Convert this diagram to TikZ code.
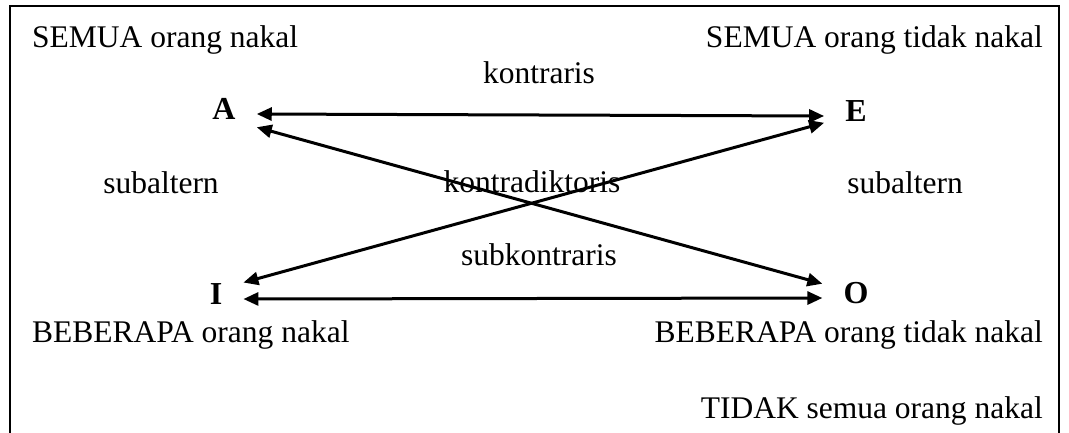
\documentclass[tikz,border=0pt]{standalone}
\usepackage{fontspec}
\setmainfont{Liberation Serif}
\usetikzlibrary{arrows.meta}
\tikzset{
  txt/.style={font=\fontsize{31.5}{38}\selectfont, inner sep=0pt},
  letter/.style={font=\fontsize{32}{38}\selectfont\bfseries, text height=22pt, text depth=12pt, inner xsep=21pt, inner ysep=3pt},
  rel/.style={line width=3pt, {Triangle[length=15pt,width=13pt]}-{Triangle[length=15pt,width=13pt]}}
}
\begin{document}
\begin{tikzpicture}[x=1pt,y=-1pt]
\useasboundingbox (0,0) rectangle (1069,432);
\draw[line width=2pt] (10,440)--(10,6)--(1059,6)--(1059,440);
% texts
\node[txt,anchor=base west] (semua) at (32,47) {SEMUA orang nakal};
\node[txt,anchor=base east] (semuatidak) at (1043,47) {SEMUA orang tidak nakal};
\node[txt,anchor=base] (kontraris) at (539,83) {kontraris};
\node[txt,anchor=base] (subaltA) at (161,193) {subaltern};
\node[txt,anchor=base] (kontradiktoris) at (532,192) {kontradiktoris};
\node[txt,anchor=base] (subaltE) at (905,193) {subaltern};
\node[txt,anchor=base] (subkontraris) at (539,265) {subkontraris};
\node[txt,anchor=base west] (beberapa) at (32,342) {BEBERAPA orang nakal};
\node[txt,anchor=base east] (beberapatidak) at (1043,342) {BEBERAPA orang tidak nakal};
\node[txt,anchor=base east] (tidaksemua) at (1043,418) {TIDAK semua orang nakal};
% corners
\node[letter,anchor=base] (A) at (224,119) {A};
\node[letter,anchor=base] (E) at (856,121) {E};
\node[letter,anchor=base] (I) at (216,304) {I};
\node[letter,anchor=base] (O) at (856,303) {O};
% relations
\draw[rel] (A.east)--(E.west);
\draw[rel] (I.east)--(O.west);
\draw[rel] (O.157)--(A.-22);
\draw[rel] (E.192)--(I.31);
\end{tikzpicture}
\end{document}
